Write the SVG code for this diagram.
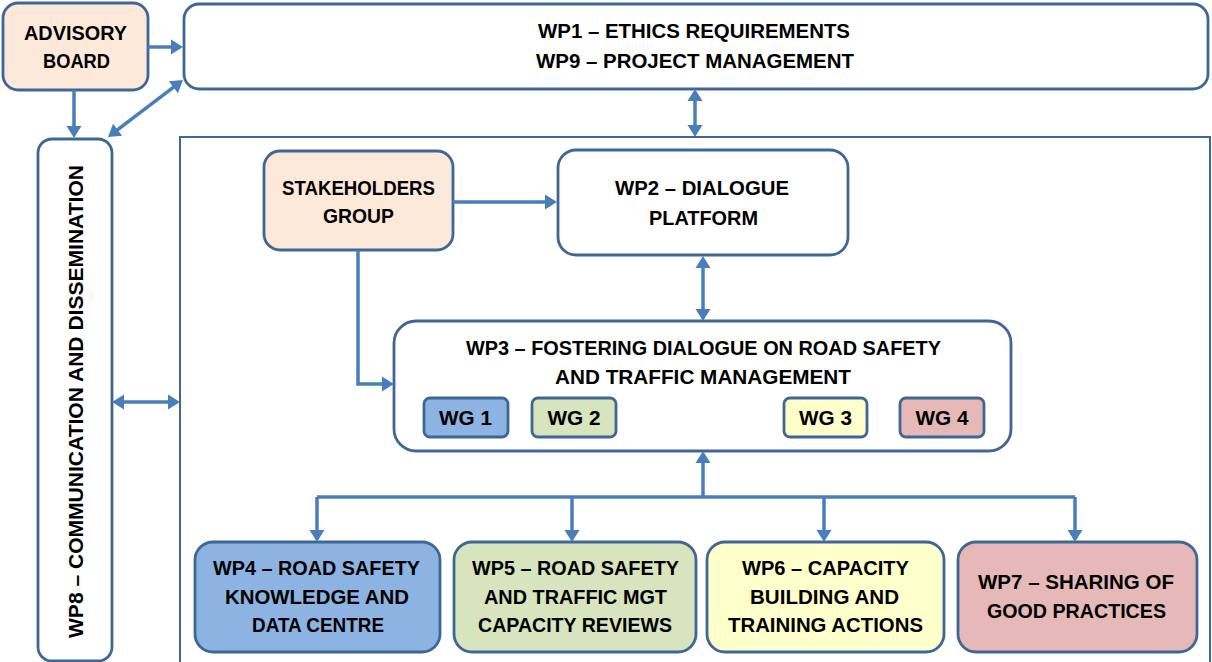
<svg xmlns="http://www.w3.org/2000/svg" width="1212" height="662" viewBox="0 0 1212 662">
<defs>
<style>
.box{stroke:#3F6796;stroke-width:2.8;}
.w{fill:#FFFFFF;}
.peach{fill:#FDE9D9;}
.blue{fill:#8DB3E2;}
.green{fill:#D7E4BD;}
.yellow{fill:#FFFFCC;}
.pink{fill:#E6B9B8;}
.t{font-family:"Liberation Sans",Arial,sans-serif;font-weight:bold;font-size:21px;fill:#000;text-anchor:middle;}
.c{fill:none;stroke:#4A7EBB;stroke-width:3.5;}
</style>
<marker id="ah" markerUnits="userSpaceOnUse" viewBox="0 0 12 15" markerWidth="12" markerHeight="15" refX="6" refY="7.5" orient="auto-start-reverse" overflow="visible">
<path d="M0,0 L12,7.5 L0,15 Z" fill="#4A7EBB"/>
</marker>
</defs>
<rect width="1212" height="662" fill="#FFFFFF"/>

<g id="container">
<path d="M180,664 V137 H1210 V664" fill="none" stroke="#3F6796" stroke-width="2"/>
</g>

<g id="advisory-board">
<rect class="box peach" x="3" y="3" width="145" height="87" rx="15"/>
<text class="t" x="75.5" y="40" textLength="103" lengthAdjust="spacingAndGlyphs">ADVISORY</text>
<text class="t" x="76.5" y="68" textLength="67" lengthAdjust="spacingAndGlyphs">BOARD</text>
</g>

<g id="wp1-wp9">
<rect class="box w" x="184" y="4" width="1024" height="85" rx="15"/>
<text class="t" x="694" y="38" textLength="312" lengthAdjust="spacingAndGlyphs">WP1 – ETHICS REQUIREMENTS</text>
<text class="t" x="695" y="68" textLength="318" lengthAdjust="spacingAndGlyphs">WP9 – PROJECT MANAGEMENT</text>
</g>

<g id="wp8">
<rect class="box w" x="38" y="139" width="74" height="522" rx="14"/>
<text class="t" transform="translate(83,401.5) rotate(-90)" x="0" y="0" textLength="473" lengthAdjust="spacingAndGlyphs">WP8 – COMMUNICATION AND DISSEMINATION</text>
</g>

<g id="stakeholders">
<rect class="box peach" x="264" y="151" width="189" height="99" rx="16"/>
<text class="t" x="358.5" y="195" textLength="153" lengthAdjust="spacingAndGlyphs">STAKEHOLDERS</text>
<text class="t" x="358.5" y="223" textLength="71" lengthAdjust="spacingAndGlyphs">GROUP</text>
</g>

<g id="wp2">
<rect class="box w" x="558" y="150" width="290" height="105" rx="18"/>
<text class="t" x="702" y="195" textLength="174" lengthAdjust="spacingAndGlyphs">WP2 – DIALOGUE</text>
<text class="t" x="703.5" y="225" textLength="109" lengthAdjust="spacingAndGlyphs">PLATFORM</text>
</g>

<g id="wp3">
<rect class="box w" x="394" y="321" width="617" height="130" rx="22"/>
<text class="t" x="703.5" y="355" textLength="475" lengthAdjust="spacingAndGlyphs">WP3 – FOSTERING DIALOGUE ON ROAD SAFETY</text>
<text class="t" x="703" y="384" textLength="296" lengthAdjust="spacingAndGlyphs">AND TRAFFIC MANAGEMENT</text>
</g>

<g id="wg1">
<rect class="box blue" x="424" y="398" width="84" height="39" rx="6"/>
<text class="t" x="465.5" y="425" textLength="53" lengthAdjust="spacingAndGlyphs">WG 1</text>
</g>
<g id="wg2">
<rect class="box green" x="532" y="398" width="84" height="39" rx="6"/>
<text class="t" x="574" y="425" textLength="53" lengthAdjust="spacingAndGlyphs">WG 2</text>
</g>
<g id="wg3">
<rect class="box yellow" x="784" y="398" width="83" height="39" rx="6"/>
<text class="t" x="825.5" y="425" textLength="53" lengthAdjust="spacingAndGlyphs">WG 3</text>
</g>
<g id="wg4">
<rect class="box pink" x="900" y="398" width="84" height="39" rx="6"/>
<text class="t" x="942" y="425" textLength="53" lengthAdjust="spacingAndGlyphs">WG 4</text>
</g>

<g id="wp4">
<rect class="box blue" x="195" y="542" width="245" height="110" rx="18"/>
<text class="t" x="316.5" y="575" textLength="207" lengthAdjust="spacingAndGlyphs">WP4 – ROAD SAFETY</text>
<text class="t" x="317" y="604" textLength="184" lengthAdjust="spacingAndGlyphs">KNOWLEDGE AND</text>
<text class="t" x="318" y="632" textLength="132" lengthAdjust="spacingAndGlyphs">DATA CENTRE</text>
</g>

<g id="wp5">
<rect class="box green" x="454" y="542" width="242" height="110" rx="18"/>
<text class="t" x="575.5" y="575" textLength="207" lengthAdjust="spacingAndGlyphs">WP5 – ROAD SAFETY</text>
<text class="t" x="575.5" y="604" textLength="183" lengthAdjust="spacingAndGlyphs">AND TRAFFIC MGT</text>
<text class="t" x="575" y="632" textLength="194" lengthAdjust="spacingAndGlyphs">CAPACITY REVIEWS</text>
</g>

<g id="wp6">
<rect class="box yellow" x="707" y="542" width="237" height="110" rx="18"/>
<text class="t" x="825.5" y="575" textLength="167" lengthAdjust="spacingAndGlyphs">WP6 – CAPACITY</text>
<text class="t" x="824.5" y="604" textLength="149" lengthAdjust="spacingAndGlyphs">BUILDING AND</text>
<text class="t" x="825.5" y="632" textLength="195" lengthAdjust="spacingAndGlyphs">TRAINING ACTIONS</text>
</g>

<g id="wp7">
<rect class="box pink" x="958" y="542" width="239" height="110" rx="18"/>
<text class="t" x="1076" y="589" textLength="196" lengthAdjust="spacingAndGlyphs">WP7 – SHARING OF</text>
<text class="t" x="1076.5" y="618" textLength="179" lengthAdjust="spacingAndGlyphs">GOOD PRACTICES</text>
</g>

<g id="connectors">
<path class="c" d="M148,47 H177" marker-end="url(#ah)"/>
<path class="c" d="M74,90 V132" marker-end="url(#ah)"/>
<path class="c" d="M112.8,133.4 L178.2,83.6" marker-start="url(#ah)" marker-end="url(#ah)"/>
<path class="c" d="M695,95 V131" marker-start="url(#ah)" marker-end="url(#ah)"/>
<path class="c" d="M118,402 H174" marker-start="url(#ah)" marker-end="url(#ah)"/>
<path class="c" d="M453,202 H551" marker-end="url(#ah)"/>
<path class="c" d="M358,250 V384 H388" marker-end="url(#ah)"/>
<path class="c" d="M703,262 V315" marker-start="url(#ah)" marker-end="url(#ah)"/>
<path class="c" d="M703,497 V457" marker-end="url(#ah)"/>
<path class="c" d="M317,497 H1075"/>
<path class="c" d="M317,497 V536" marker-end="url(#ah)"/>
<path class="c" d="M572,497 V536" marker-end="url(#ah)"/>
<path class="c" d="M824,497 V536" marker-end="url(#ah)"/>
<path class="c" d="M1075,497 V536" marker-end="url(#ah)"/>
</g>
</svg>
